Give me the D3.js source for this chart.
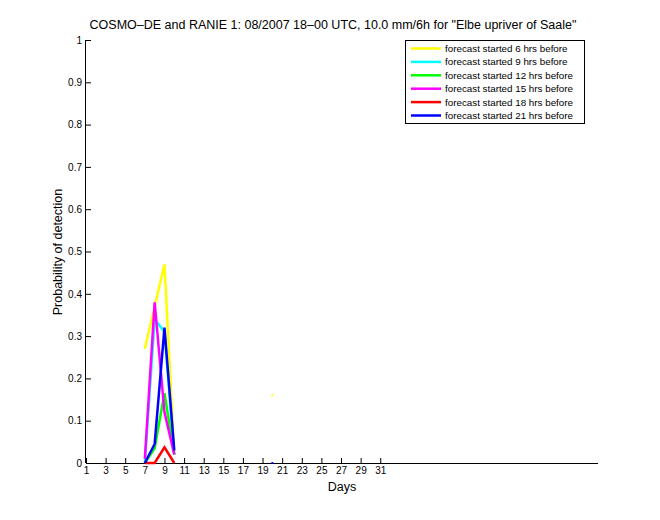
<!DOCTYPE html>
<html><head><meta charset="utf-8">
<script src="https://cdn.jsdelivr.net/npm/d3@7"></script>
<style>body{margin:0;background:#fff}svg{font-family:"Liberation Sans",Arial,sans-serif}</style>
</head><body><svg id="c" width="660" height="520"></svg>
<script>
const days = [7, 8, 9, 10, 20];
const seriesNames = ["forecast started 6 hrs before","forecast started 9 hrs before","forecast started 12 hrs before","forecast started 15 hrs before","forecast started 18 hrs before","forecast started 21 hrs before"];
const seriesColors = ["#ffff00","#00ffff","#00ff00","#ff00ff","#ff0000","#0000ff"];
const s6  = [0.27, 0.37, 0.47, 0.02, 0.16];
const s9  = [0.00, 0.34, 0.31, 0.02, null];
const s12 = [0.00, 0.035, 0.165, 0.02, null];
const s15 = [0.01, 0.38, 0.12, 0.02, null];
const s18 = [0.00, 0.00, 0.037, 0.00, null];
const s21 = [0.00, 0.045, 0.32, 0.03, 0.00];
const seriesValues = [s6, s9, s12, s15, s18, s21];
const xTicks = [1,3,5,7,9,11,13,15,17,19,21,23,25,27,29,31];
const yTicks = [0,0.1,0.2,0.3,0.4,0.5,0.6,0.7,0.8,0.9,1];
const titleText = 'COSMO\u2013DE and RANIE 1: 08/2007 18\u201300 UTC, 10.0 mm/6h for "Elbe upriver of Saale"';

const svg = d3.select("#c");
const L = 86, R = 598, T = 40, B = 463;
const x = d3.scaleLinear().domain([1, 53.2]).range([L, R]);
const y = d3.scaleLinear().domain([0, 1]).range([B, T]);

// axes
const xa = svg.append("g").attr("transform", `translate(0,${B})`)
  .call(d3.axisBottom(x).tickValues(xTicks).tickSize(-5).tickPadding(4).tickFormat(d3.format("d")));
xa.select(".domain").attr("d", `M${L},0.5H${R}`);
const ya = svg.append("g").attr("transform", `translate(${L},0)`)
  .call(d3.axisLeft(y).tickValues(yTicks).tickSize(-5).tickPadding(4).tickFormat(d => d === 0 ? "0" : d === 1 ? "1" : d3.format(".1f")(d)));
ya.select(".domain").attr("d", `M-0.5,${T}V${B}`);
svg.selectAll(".tick text").attr("font-size", 10).attr("font-family", '"Liberation Sans",Arial,sans-serif').attr("fill", "#000");
svg.selectAll(".tick line, .domain").attr("stroke", "#000");

// lines
seriesValues.forEach((vals, i) => {
  const pts = days.map((d, j) => ({d, v: vals[j]})).filter(p => p.v !== null);
  const segs = [];
  let cur = [];
  pts.forEach((p, k) => {
    if (k > 0 && p.d - pts[k-1].d > 1) { segs.push(cur); cur = []; }
    cur.push(p);
  });
  segs.push(cur);
  segs.forEach(seg => {
    if (seg.length > 1) {
      svg.append("path").attr("d", d3.line().x(p => x(p.d)).y(p => y(p.v))(seg))
        .attr("fill", "none").attr("stroke", seriesColors[i]).attr("stroke-width", 2.5);
    } else {
      svg.append("rect").attr("x", x(seg[0].d) - 1).attr("y", y(seg[0].v) - 1)
        .attr("width", 2).attr("height", 2).attr("fill", seriesColors[i]);
    }
  });
});

// title & labels
svg.append("text").attr("x", 333).attr("y", 29).attr("text-anchor", "middle")
  .attr("font-size", 12.5).text(titleText);
svg.append("text").attr("x", 342).attr("y", 491).attr("text-anchor", "middle")
  .attr("font-size", 12.5).text("Days");
svg.append("text").attr("transform", "translate(62,252) rotate(-90)").attr("text-anchor", "middle")
  .attr("font-size", 12.5).text("Probability of detection");

// legend
const lg = svg.append("g");
lg.append("rect").attr("x", 405.5).attr("y", 40.5).attr("width", 179).attr("height", 83)
  .attr("fill", "#fff").attr("stroke", "#000");
seriesNames.forEach((n, i) => {
  const yy = 48.5 + i * 13.4;
  lg.append("line").attr("x1", 411).attr("x2", 441).attr("y1", yy).attr("y2", yy)
    .attr("stroke", seriesColors[i]).attr("stroke-width", 2.5);
  lg.append("text").attr("x", 445).attr("y", yy + 3.5).attr("font-size", 9.8).text(n);
});
</script></body></html>
